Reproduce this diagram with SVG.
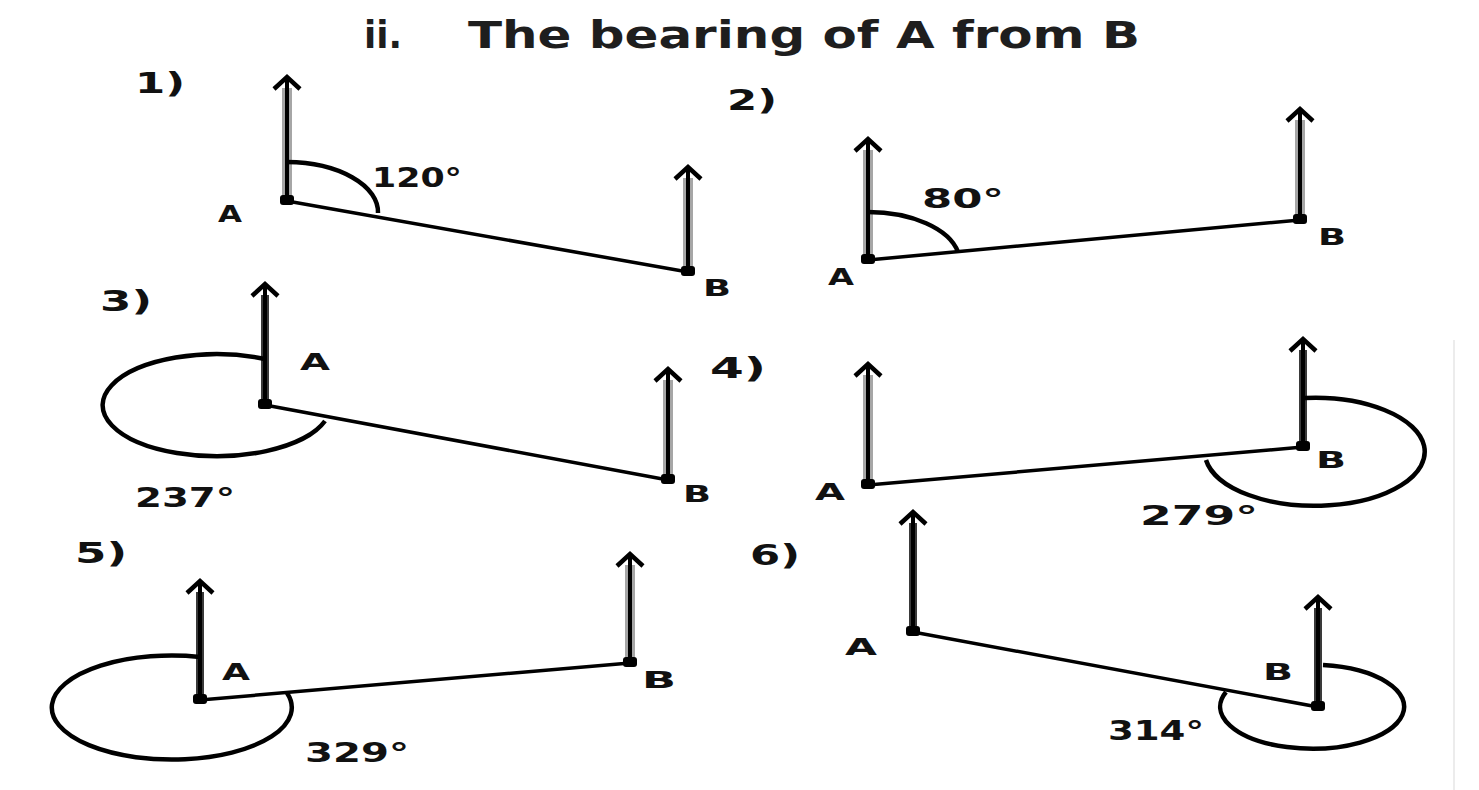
<svg xmlns="http://www.w3.org/2000/svg" width="1479" height="790" viewBox="0 0 1479 790">
<defs>
<marker id="hat" markerUnits="userSpaceOnUse" markerWidth="30" markerHeight="20" refX="0" refY="0" viewBox="-15 -3 30 20" orient="0" overflow="visible">
<path d="M-13,13 L0,1 L13,13" fill="none" stroke="#000" stroke-width="4.5" stroke-linejoin="miter"/>
</marker>
</defs>
<style>
.halo{stroke:#a6a6a6;stroke-width:10;fill:none}
.dark{stroke:#3a3a3a;stroke-width:8;fill:none}
.core{stroke:#000;stroke-width:4;fill:none}
.seg{stroke:#000;stroke-width:3.5;fill:none}
.arc{stroke:#000;stroke-width:4.5;fill:none}
.dot{fill:#000}
.t{font-family:"DejaVu Sans",Verdana,sans-serif;font-weight:bold;fill:#111}
.lab{font-size:23px}
.num{font-size:27px}
.q{font-size:29px}
.title{font-size:37px;fill:#1e1e1e}
</style>
<rect width="1479" height="790" fill="#fff"/>
<line x1="1454" y1="340" x2="1454" y2="790" stroke="#ececec" stroke-width="2"/>
<g id="title">
<text class="t title" x="364" y="48" textLength="38" lengthAdjust="spacingAndGlyphs">ii.</text>
<text class="t title" x="468" y="48" textLength="672" lengthAdjust="spacingAndGlyphs">The bearing of A from B</text>
</g>
<g id="connectors">
<line class="seg" x1="287" y1="201" x2="688" y2="272"/>
<line class="seg" x1="868" y1="260" x2="1300" y2="220"/>
<line class="seg" x1="265" y1="405" x2="668" y2="480"/>
<line class="seg" x1="868" y1="485" x2="1303" y2="447"/>
<line class="seg" x1="200" y1="700" x2="630" y2="663"/>
<line class="seg" x1="913" y1="632" x2="1318" y2="707"/>
</g>
<g id="q1">
<text class="t q" x="135" y="93" textLength="50" lengthAdjust="spacingAndGlyphs">1)</text>
<line class="halo" x1="287" y1="201" x2="287" y2="88"/>
<line class="core" x1="287" y1="201" x2="287" y2="76" marker-end="url(#hat)"/>
<rect class="dot" x="280" y="195" width="14" height="10" rx="3"/>
<line class="halo" x1="688" y1="272" x2="688" y2="178"/>
<line class="core" x1="688" y1="272" x2="688" y2="166" marker-end="url(#hat)"/>
<rect class="dot" x="681" y="266" width="14" height="10" rx="3"/>
<path class="arc" d="M287,162 A92,50 0 0 1 378,213"/>
<text class="t num" x="372" y="187" textLength="90" lengthAdjust="spacingAndGlyphs">120°</text>
<text class="t lab" x="218" y="222" textLength="24" lengthAdjust="spacingAndGlyphs">A</text>
<text class="t lab" x="703" y="296" textLength="28" lengthAdjust="spacingAndGlyphs">B</text>
</g>
<g id="q2">
<text class="t q" x="727" y="110" textLength="50" lengthAdjust="spacingAndGlyphs">2)</text>
<line class="halo" x1="868" y1="260" x2="868" y2="150"/>
<line class="core" x1="868" y1="260" x2="868" y2="138" marker-end="url(#hat)"/>
<rect class="dot" x="861" y="254" width="14" height="10" rx="3"/>
<line class="halo" x1="1300" y1="220" x2="1300" y2="120"/>
<line class="core" x1="1300" y1="220" x2="1300" y2="108" marker-end="url(#hat)"/>
<rect class="dot" x="1293" y="214" width="14" height="10" rx="3"/>
<path class="arc" d="M868,212 A92,50 0 0 1 958,252"/>
<text class="t num" x="922" y="208" textLength="82" lengthAdjust="spacingAndGlyphs">80°</text>
<text class="t lab" x="828" y="285" textLength="26" lengthAdjust="spacingAndGlyphs">A</text>
<text class="t lab" x="1318" y="245" textLength="28" lengthAdjust="spacingAndGlyphs">B</text>
</g>
<g id="q3">
<text class="t q" x="100" y="311" textLength="52" lengthAdjust="spacingAndGlyphs">3)</text>
<line class="dark" x1="265" y1="405" x2="265" y2="295"/>
<line class="core" x1="265" y1="405" x2="265" y2="283" marker-end="url(#hat)"/>
<rect class="dot" x="258" y="399" width="14" height="10" rx="3"/>
<line class="halo" x1="668" y1="480" x2="668" y2="380"/>
<line class="core" x1="668" y1="480" x2="668" y2="368" marker-end="url(#hat)"/>
<rect class="dot" x="661" y="474" width="14" height="10" rx="3"/>
<path class="arc" d="M265,359 A114,51 0 1 0 325,421"/>
<text class="t lab" x="300" y="370" textLength="30" lengthAdjust="spacingAndGlyphs">A</text>
<text class="t num" x="135" y="507" textLength="100" lengthAdjust="spacingAndGlyphs">237°</text>
<text class="t lab" x="683" y="502" textLength="28" lengthAdjust="spacingAndGlyphs">B</text>
</g>
<g id="q4">
<text class="t q" x="710" y="378" textLength="56" lengthAdjust="spacingAndGlyphs">4)</text>
<line class="halo" x1="868" y1="485" x2="868" y2="375"/>
<line class="core" x1="868" y1="485" x2="868" y2="363" marker-end="url(#hat)"/>
<rect class="dot" x="861" y="479" width="14" height="10" rx="3"/>
<line class="dark" x1="1303" y1="447" x2="1303" y2="350"/>
<line class="core" x1="1303" y1="447" x2="1303" y2="338" marker-end="url(#hat)"/>
<rect class="dot" x="1296" y="441" width="14" height="10" rx="3"/>
<path class="arc" d="M1305,398 A110,54 0 1 1 1206,460"/>
<text class="t lab" x="815" y="500" textLength="30" lengthAdjust="spacingAndGlyphs">A</text>
<text class="t lab" x="1316" y="468" textLength="30" lengthAdjust="spacingAndGlyphs">B</text>
<text class="t num" x="1140" y="525" textLength="118" lengthAdjust="spacingAndGlyphs">279°</text>
</g>
<g id="q5">
<text class="t q" x="75" y="563" textLength="52" lengthAdjust="spacingAndGlyphs">5)</text>
<line class="dark" x1="200" y1="700" x2="200" y2="592"/>
<line class="core" x1="200" y1="700" x2="200" y2="580" marker-end="url(#hat)"/>
<rect class="dot" x="193" y="694" width="14" height="10" rx="3"/>
<line class="halo" x1="630" y1="663" x2="630" y2="565"/>
<line class="core" x1="630" y1="663" x2="630" y2="553" marker-end="url(#hat)"/>
<rect class="dot" x="623" y="657" width="14" height="10" rx="3"/>
<path class="arc" d="M200,657 A120,52 0 1 0 287,693"/>
<text class="t lab" x="222" y="680" textLength="28" lengthAdjust="spacingAndGlyphs">A</text>
<text class="t lab" x="642" y="688" textLength="34" lengthAdjust="spacingAndGlyphs">B</text>
<text class="t num" x="305" y="762" textLength="104" lengthAdjust="spacingAndGlyphs">329°</text>
</g>
<g id="q6">
<text class="t q" x="750" y="565" textLength="50" lengthAdjust="spacingAndGlyphs">6)</text>
<line class="dark" x1="913" y1="632" x2="913" y2="523"/>
<line class="core" x1="913" y1="632" x2="913" y2="511" marker-end="url(#hat)"/>
<rect class="dot" x="906" y="626" width="14" height="10" rx="3"/>
<line class="dark" x1="1318" y1="707" x2="1318" y2="608"/>
<line class="core" x1="1318" y1="707" x2="1318" y2="596" marker-end="url(#hat)"/>
<rect class="dot" x="1311" y="701" width="14" height="10" rx="3"/>
<path class="arc" d="M1323,665 A92,42 0 1 1 1226,692"/>
<text class="t lab" x="845" y="655" textLength="32" lengthAdjust="spacingAndGlyphs">A</text>
<text class="t lab" x="1263" y="680" textLength="30" lengthAdjust="spacingAndGlyphs">B</text>
<text class="t num" x="1108" y="740" textLength="96" lengthAdjust="spacingAndGlyphs">314°</text>
</g>
</svg>
